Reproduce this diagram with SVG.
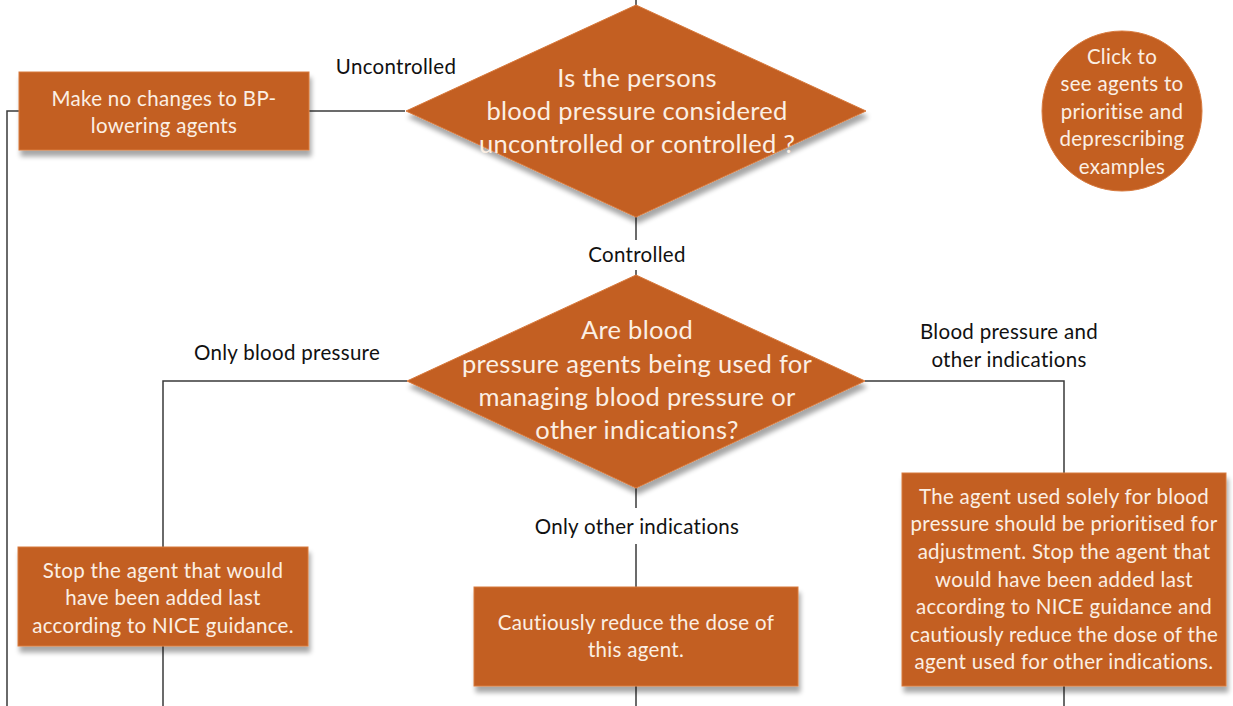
<svg xmlns="http://www.w3.org/2000/svg" width="1233" height="706" viewBox="0 0 1233 706">
<defs>
<filter id="sh" x="-10%" y="-10%" width="120%" height="130%">
<feGaussianBlur in="SourceAlpha" stdDeviation="2.5"/>
<feOffset dx="2" dy="6" result="b"/>
<feComponentTransfer><feFuncA type="linear" slope="0.35"/></feComponentTransfer>
<feMerge><feMergeNode/><feMergeNode in="SourceGraphic"/></feMerge>
</filter>
<style>
.shape{fill:#C35F21;stroke:#D87A3E;stroke-width:1;filter:url(#sh)}
.t{font-family:Lato,"Open Sans",sans-serif;fill:#FBEFE4;text-anchor:middle;letter-spacing:0.3px}
.big{font-size:25.5px}
.med{font-size:20.5px}
.lab{font-family:Lato,"Open Sans",sans-serif;font-size:20.5px;fill:#111;text-anchor:middle;letter-spacing:0.3px}
.ln{stroke:#3a3a3a;stroke-width:1.5;fill:none}
.bg{fill:#fff}
</style>
</defs>
<rect width="1233" height="706" fill="#fff"/>
<g id="connectors">
<path class="ln" d="M636 0 V8"/>
<path class="ln" d="M405 111 H309"/>
<path class="ln" d="M19 111 H7 V706" stroke="#111"/>
<path class="ln" d="M636 216 V277"/>
<path class="ln" d="M407 381 H163 V548"/>
<path class="ln" d="M163 646 V706"/>
<path class="ln" d="M865 381 H1064 V474"/>
<path class="ln" d="M1064 686 V706"/>
<path class="ln" d="M636 488 V588"/>
<path class="ln" d="M636 686 V706"/>
</g>
<g id="label-uncontrolled"><rect class="bg" x="330" y="52" width="132" height="30"/><text class="lab" x="396" y="74">Uncontrolled</text></g>
<g id="label-controlled"><rect class="bg" x="560" y="240" width="152" height="30"/><text class="lab" x="637" y="262">Controlled</text></g>
<g id="label-onlybp"><text class="lab" x="287" y="360">Only blood pressure</text></g>
<g id="label-bpother"><text class="lab" x="1009" y="339">Blood pressure and</text><text class="lab" x="1009" y="367">other indications</text></g>
<g id="label-onlyother"><rect class="bg" x="490" y="508" width="292" height="36"/><text class="lab" x="637" y="534">Only other indications</text></g>
<g id="node-decision1">
<polygon class="shape" points="636,5 866,111 636,217 406,111"/>
<text class="t big" x="637" y="87">Is the persons</text>
<text class="t big" x="637" y="120">blood pressure considered</text>
<text class="t big" x="637" y="153">uncontrolled or controlled ?</text>
</g>
<g id="node-nochange">
<rect class="shape" x="19" y="72" width="290" height="78"/>
<text class="t med" x="164" y="106">Make no changes to BP-</text>
<text class="t med" x="164" y="133">lowering agents</text>
</g>
<g id="node-click">
<circle class="shape" cx="1122" cy="111" r="80" style="filter:none"/>
<text class="t med" x="1122" y="64">Click to</text>
<text class="t med" x="1122" y="91">see agents to</text>
<text class="t med" x="1122" y="119">prioritise and</text>
<text class="t med" x="1122" y="146">deprescribing</text>
<text class="t med" x="1122" y="174">examples</text>
</g>
<g id="node-decision2">
<polygon class="shape" points="636,275 865,381 636,488 407,381"/>
<text class="t big" x="637" y="339">Are blood</text>
<text class="t big" x="637" y="373">pressure agents being used for</text>
<text class="t big" x="637" y="406">managing blood pressure or</text>
<text class="t big" x="637" y="439">other indications?</text>
</g>
<g id="node-stop">
<rect class="shape" x="18" y="547" width="290" height="99"/>
<text class="t med" x="163" y="578">Stop the agent that would</text>
<text class="t med" x="163" y="605">have been added last</text>
<text class="t med" x="163" y="633">according to NICE guidance.</text>
</g>
<g id="node-reduce">
<rect class="shape" x="474" y="587" width="324" height="99"/>
<text class="t med" x="636" y="630">Cautiously reduce the dose of</text>
<text class="t med" x="636" y="657">this agent.</text>
</g>
<g id="node-both">
<rect class="shape" x="902" y="473" width="324" height="213"/>
<text class="t med" x="1064" y="504">The agent used solely for blood</text>
<text class="t med" x="1064" y="531">pressure should be prioritised for</text>
<text class="t med" x="1064" y="559">adjustment. Stop the agent that</text>
<text class="t med" x="1064" y="587">would have been added last</text>
<text class="t med" x="1064" y="614">according to NICE guidance and</text>
<text class="t med" x="1064" y="642">cautiously reduce the dose of the</text>
<text class="t med" x="1064" y="669">agent used for other indications.</text>
</g>
</svg>
